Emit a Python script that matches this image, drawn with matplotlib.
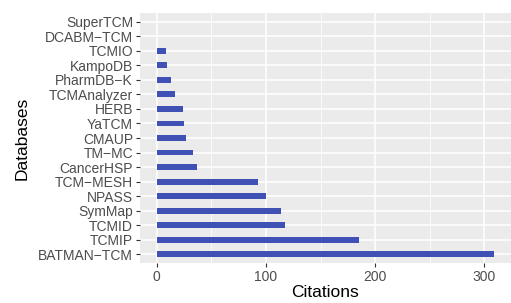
import matplotlib
matplotlib.use("Agg")
import matplotlib.pyplot as plt

plt.rcParams['font.family'] = ['Liberation Sans', 'DejaVu Sans']

databases = ['BATMAN-TCM', 'TCMIP', 'TCMID', 'SymMap', 'NPASS', 'TCM-MESH',
             'CancerHSP', 'TM-MC', 'CMAUP', 'YaTCM', 'HERB', 'TCMAnalyzer',
             'PharmDB-K', 'KampoDB', 'TCMIO', 'DCABM-TCM', 'SuperTCM']
citations = [309, 185, 117, 114, 100, 93, 37, 33, 27, 25, 24, 17, 13, 9, 8, 0, 0]
xticks = [0, 100, 200, 300]

fig = plt.figure(figsize=(5.11, 3.03), dpi=100)
ax = fig.add_axes([140 / 511, 1 - 263 / 303, 371 / 511, 250 / 303])
ax.set_facecolor('#EBEBEB')

ypos = list(range(len(databases)))
ax.barh(ypos, citations, height=0.4, color='#3F51B5', zorder=3)

ax.set_xlim(-15.45, 324.45)
ax.set_ylim(-0.6, len(databases) - 0.4)
ax.set_yticks(ypos)
ax.set_yticklabels([d.replace('-', '\u2212') for d in databases])
ax.set_xticks(xticks)
ax.set_xticks([50, 150, 250], minor=True)

ax.grid(True, which='major', color='white', linewidth=1.1, zorder=1)
ax.grid(True, which='minor', axis='x', color='white', linewidth=0.55, zorder=1)
for s in ax.spines.values():
    s.set_visible(False)

ax.tick_params(axis='both', which='major', length=3, width=0.8, color='#333333',
               labelcolor='#4D4D4D', labelsize=10, pad=2)
ax.tick_params(axis='both', which='minor', length=0)

ax.set_xlabel('Citations', fontsize=12.5, labelpad=1)
ax.set_ylabel('Databases', fontsize=12.5, labelpad=6)

fig.savefig('out.png', dpi=100)
